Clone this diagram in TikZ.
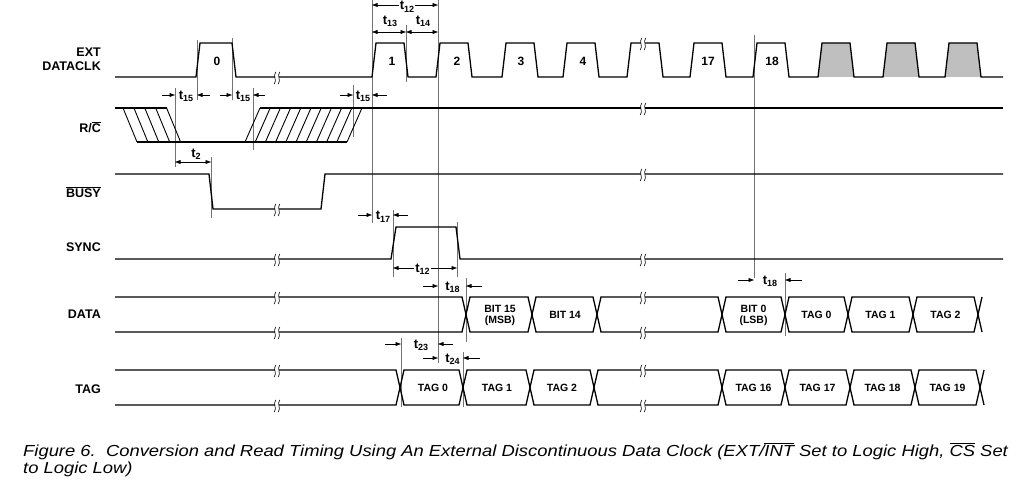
\documentclass[tikz,border=0pt]{standalone}
\usepackage{fontspec}
\setmainfont{Liberation Sans}
\newfontfamily\capfont[FakeStretch=1.15]{Liberation Sans}
\usetikzlibrary{arrows.meta}
\newcommand{\tm}[1]{t\raisebox{-0.35ex}{\fontsize{9}{10}\selectfont #1}}
\newcommand{\ovl}[1]{$\overline{\mbox{#1}}$}
\newcommand{\brk}[2]{%
  \fill[white] (#1-2.2,#2-1.6) rectangle (#1+2.2,#2+1.6);
  \draw[line width=0.6pt,shift={(#1,#2)}] (-1.2,-5) .. controls (-4.6,-1) and (0.6,3) .. (-2.8,7)
    (2.8,-5) .. controls (-0.6,-1) and (4.6,3) .. (1.2,7);}
\begin{document}
\begin{tikzpicture}[x=1pt,y=-1pt]
\tikzstyle{sig}=[line width=1.3pt, line join=miter]
\tikzstyle{hatch}=[line width=0.9pt]
\tikzstyle{guide}=[line width=0.7pt, black!55]
\tikzstyle{lbl}=[font=\bfseries\fontsize{12.5}{14}\selectfont, anchor=base east, inner sep=0]
\tikzstyle{num}=[font=\bfseries\fontsize{12}{14}\selectfont, anchor=base, inner sep=0]
\tikzstyle{bus}=[font=\bfseries\fontsize{10.5}{10.5}\selectfont, align=center, inner sep=0]
\tikzstyle{tl}=[font=\bfseries\fontsize{13}{14}\selectfont, anchor=base, inner sep=1pt]
\tikzstyle{captxt}=[font=\capfont\itshape\fontsize{16}{18}\selectfont, anchor=base west, inner sep=0]
\tikzstyle{dm}=[line width=0.6pt, -{Triangle[length=5.5pt,width=3.8pt]}]
\tikzstyle{dd}=[line width=0.6pt, {Triangle[length=5.5pt,width=3.8pt]}-{Triangle[length=5.5pt,width=3.8pt]}]
\useasboundingbox (0,0) rectangle (1024,486);

% signal names
\node[lbl] (ext) at (101,57) {EXT};
\node[lbl] (dclk) at (101,71) {DATACLK};
\node[lbl] (rc) at (101,132.5) {R/\ovl{C}};
\node[lbl] (busy) at (101,197.5) {\ovl{BUSY}};
\node[lbl] (sync) at (101,251.5) {SYNC};
\node[lbl] (data) at (101,318.5) {DATA};
\node[lbl] (tag) at (101,393.5) {TAG};

% guide lines
\foreach \x/\a/\b in {175/88/167, 197/40/100, 232/38/100, 253/88/150, 353/85/137,
  372/0/223, 406/25/82, 438/0/363, 211/157/218, 393/210/277, 457/222/277,
  466/278/342, 401/338/407, 463/352/407, 754/35/278, 785/273/336}
  \draw[guide] (\x,\a) -- (\x,\b);

% EXT DATACLK
\foreach \r in {818,883,945}
  \fill[black!25] (\r,77) -- ++(4,-34) -- ++(28,0) -- ++(4,34) -- cycle;
\draw[sig] (115,77)
  foreach \r/\w in {196/32,372/28,436/28,502/28,563/28,627/28,690/28,753/28,818/28,883/28,945/28}
  { -- (\r,77) -- ++(4,-34) -- ++(\w,0) -- ++(4,34) } -- (1003,77);
\node[num] (n0) at (217,65.5) {0};
\node[num] (n1) at (392,65.5) {1};
\node[num] (n2) at (457,65.5) {2};
\node[num] (n3) at (521,65.5) {3};
\node[num] (n4) at (583,65.5) {4};
\node[num] (n17) at (708,65.5) {17};
\node[num] (n18) at (772,65.5) {18};

% R/C
\draw[sig] (115,108) -- (167,108);
\draw[sig] (137,142) -- (347,142);
\draw[sig] (260,108) -- (1003,108);
\foreach \i in {0,...,4} \draw[hatch] (123+\i*10.9,108) -- ++(14,34);
\foreach \i in {0,...,10} \draw[hatch] (245+\i*10.2,142) -- ++(15,-34);

% BUSY
\draw[sig] (115,174) -- (209,174) -- (213,209) -- (321,209) -- (325,174) -- (1003,174);

% SYNC
\draw[sig] (115,259) -- (391,259) -- (396,227) -- (456,227) -- (460,259) -- (1003,259);

% DATA
\draw[sig] (115,297) -- (462,297) -- (466,314.5) -- (462,332) -- (115,332);
\foreach \a/\b in {466/532,532/597,597/722,722/785,785/848,848/913,913/978}
  \draw[sig] (\a,314.5) -- (\a+4,297) -- (\b-4,297) -- (\b,314.5) -- (\b-4,332) -- (\a+4,332) -- cycle;
\draw[sig] (982,297) -- (978,314.5) -- (982,332);
\node[bus] (b15) at (500,315.5) {BIT 15\\(MSB)};
\node[bus] (b14) at (565,314.5) {BIT 14};
\node[bus] (b0) at (753.5,315.5) {BIT 0\\(LSB)};
\node[bus] (dt0) at (816.5,314.5) {TAG 0};
\node[bus] (dt1) at (880.5,314.5) {TAG 1};
\node[bus] (dt2) at (945.5,314.5) {TAG 2};

% TAG
\draw[sig] (115,370) -- (396,370) -- (400,387.5) -- (396,405) -- (115,405);
\foreach \a/\b in {400/463,463/530,530/594,594/722,722/785,785/850,850/915,915/980}
  \draw[sig] (\a,387.5) -- (\a+4,370) -- (\b-4,370) -- (\b,387.5) -- (\b-4,405) -- (\a+4,405) -- cycle;
\draw[sig] (984,370) -- (980,387.5) -- (984,405);
\node[bus] (tg0) at (433,388) {TAG 0};
\node[bus] (tg1) at (497,388) {TAG 1};
\node[bus] (tg2) at (562,388) {TAG 2};
\node[bus] (tg16) at (753.5,388) {TAG 16};
\node[bus] (tg17) at (817.5,388) {TAG 17};
\node[bus] (tg18) at (882.5,388) {TAG 18};
\node[bus] (tg19) at (947.5,388) {TAG 19};

% breaks
\foreach \x/\y in {277/77, 643/43, 643/108, 277/209, 643/174, 277/259, 643/259,
  277/297, 277/332, 643/297, 643/332, 277/370, 277/405, 643/370, 643/405}
  {\brk{\x}{\y}}

% timing
\draw[dd] (372,5) -- (438,5);
\node[tl,fill=white] (d12a) at (407,10) {\tm{12}};
\draw[dd] (372,32) -- (406,32);
\node[tl] (d13) at (390,24.5) {\tm{13}};
\draw[dd] (406,32) -- (438,32);
\node[tl] (d14) at (423,24.5) {\tm{14}};
\draw[dm] (162,95) -- (175,95); \draw[dm] (210,95) -- (197,95);
\node[tl] (d15a) at (186,99.5) {\tm{15}};
\draw[dm] (220,95) -- (232,95); \draw[dm] (265,95) -- (253,95);
\node[tl] (d15b) at (243,99.5) {\tm{15}};
\draw[dm] (340,95) -- (353,95); \draw[dm] (387,95) -- (372,95);
\node[tl] (d15c) at (363,99.5) {\tm{15}};
\draw[dd] (175,162) -- (211,162);
\node[tl] (d2) at (196,157.5) {\tm{2}};
\draw[dm] (358,215) -- (372,215); \draw[dm] (408,215) -- (393,215);
\node[tl] (d17) at (383,220) {\tm{17}};
\draw[dd] (393,268) -- (457,268);
\node[tl,fill=white] (d12b) at (422.5,272.5) {\tm{12}};
\draw[dm] (423,286) -- (438,286); \draw[dm] (482,286) -- (466,286);
\node[tl] (d18a) at (452.5,290) {\tm{18}};
\draw[dm] (385,344) -- (401,344); \draw[dm] (453,344) -- (438,344);
\node[tl] (d23) at (421,348.5) {\tm{23}};
\draw[dm] (423,358) -- (438,358); \draw[dm] (480,358) -- (463,358);
\node[tl] (d24) at (452.5,362) {\tm{24}};
\draw[dm] (738,280) -- (754,280); \draw[dm] (802,280) -- (785,280);
\node[tl] (d18b) at (770,284.5) {\tm{18}};

% caption
\node[captxt] (cap1) at (23,456)
  {Figure 6.\ \ Conversion and Read Timing Using An External Discontinuous Data Clock (EXT/\ovl{INT} Set to Logic High, \ovl{CS} Set};
\node[captxt] (cap2) at (23,473) {to Logic Low)};
\end{tikzpicture}
\end{document}
